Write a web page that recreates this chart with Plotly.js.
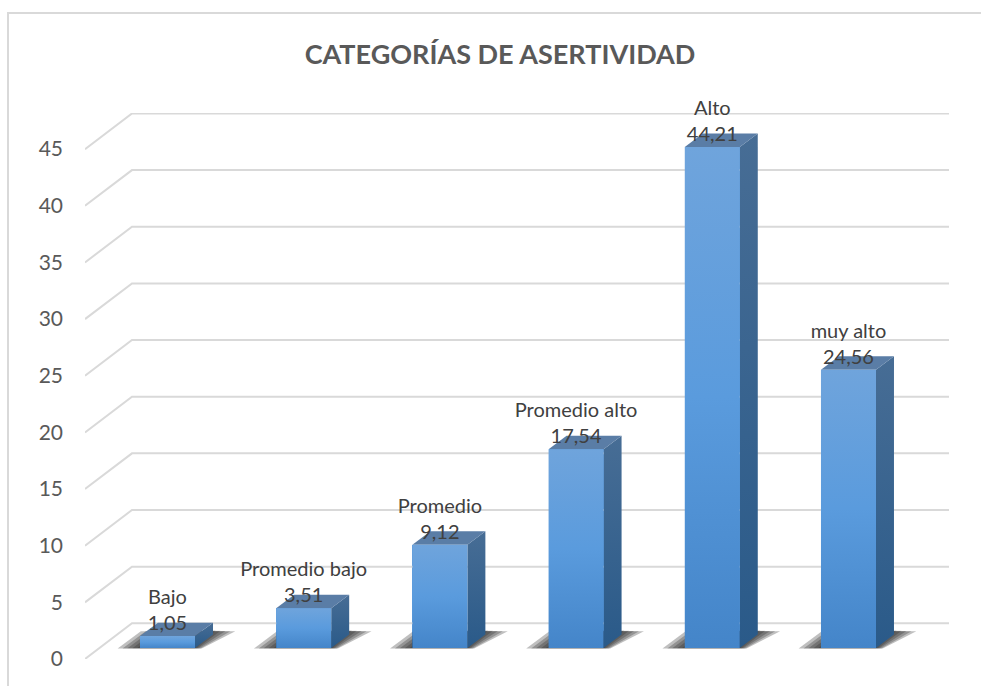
<!DOCTYPE html>
<html>
<head>
<meta charset="utf-8">
<script src="https://cdn.plot.ly/plotly-3.0.1.min.js"></script>
<style>html,body{margin:0;padding:0;background:#fff}#chart{width:981px;height:686px}</style>
</head>
<body>
<div id="chart"></div>
<script>
var categories = ['Bajo', 'Promedio bajo', 'Promedio', 'Promedio alto', 'Alto', 'muy alto'];
var values = [1.05, 3.51, 9.12, 17.54, 44.21, 24.56];
var valueLabels = ['1,05', '3,51', '9,12', '17,54', '44,21', '24,56'];
var yTicks = [0, 5, 10, 15, 20, 25, 30, 35, 40, 45];

var xMin = -0.6057, xMax = 5.738, yMax = 48.19;
var wallDx = 0.345, wallDy = 3.15;
var barDx = 0.132, barDy = 1.19, barW = 0.404, barBase = 0.97;
var grid = '#d9d9d9', textCol = '#595959';
var font = 'Lato, "Open Sans", sans-serif';
var idx = categories.map(function (_, i) { return i; });

function poly(xs, ys, extra) {
  var t = {type: 'scatter', mode: 'lines', x: xs.concat(xs[0]), y: ys.concat(ys[0]),
    fill: 'toself', line: {width: 0}, hoverinfo: 'skip', showlegend: false, cliponaxis: false};
  for (var k in extra) t[k] = extra[k];
  return t;
}

var traces = [];

// Base bars, driven by the data
traces.push({type: 'bar', x: idx, y: values, base: barBase, width: barW,
  marker: {color: '#5a9bdd'}, name: 'Asertividad', showlegend: false,
  text: valueLabels, textposition: 'none', hovertemplate: '%{text}<extra></extra>'});

// Perspective gridlines
var gx = [], gy = [];
yTicks.forEach(function (v) {
  gx.push(xMin, xMin + wallDx, xMax, null);
  gy.push(v, v + wallDy, v + wallDy, null);
});
traces.push({type: 'scatter', mode: 'lines', x: gx, y: gy, line: {color: grid, width: 2},
  hoverinfo: 'skip', showlegend: false, cliponaxis: false, connectgaps: false});

// Soft floor shadows
idx.forEach(function (i) {
  var l = i - barW / 2, r = i + barW / 2;
  var layers = [0.17, 0.13, 0.09, 0.05, 0.02];
  layers.forEach(function (a, n) {
    var s = n * 0.036 + 0.02;
    var rise = 1.55 - n * 0.02;
    traces.push(poly(
      [l - s, l - s + 0.17, r + barDx + s, r + s * 0.3],
      [barBase - n * 0.012, barBase + rise, barBase + rise, barBase - n * 0.012],
      {fillcolor: 'rgba(0,0,0,' + (0.17 + n * 0.02) + ')'}));
  });
});

// 3D faces
idx.forEach(function (i) {
  var l = i - barW / 2, r = i + barW / 2, top = barBase + values[i];
  traces.push(poly([r, r + barDx, r + barDx, r],
    [barBase, barBase + barDy, top + barDy, top],
    {fillgradient: {type: 'vertical', colorscale: [[0, '#2a5a89'], [1, '#476d95']]}}));
  traces.push(poly([l, l + barDx, r + barDx, r],
    [top, top + barDy, top + barDy, top], {fillcolor: '#5a7da6'}));
  traces.push(poly([l, r, r, l], [barBase, barBase, top, top],
    {fillgradient: {type: 'vertical', colorscale: [[0, '#4485c9'], [0.5, '#5a9bdd'], [1, '#6fa4dc']]}}));
});

// Data labels
traces.push({type: 'scatter', mode: 'text', x: idx,
  y: values.map(function (v) { return v + barBase + 0.1; }),
  text: categories.map(function (c, i) { return c + '<br>' + valueLabels[i]; }),
  textposition: 'top center', textfont: {family: font, size: 20, color: '#404040'},
  hoverinfo: 'skip', showlegend: false, cliponaxis: false});

var layout = {
  width: 981, height: 686, showlegend: false, bargap: 0,
  paper_bgcolor: '#fff', plot_bgcolor: 'rgba(0,0,0,0)',
  margin: {l: 85, r: 32, t: 113, b: 27, pad: 0},
  title: {text: '<b>CATEGORÍAS DE ASERTIVIDAD</b>', x: 500 / 981, xanchor: 'center',
    xref: 'container', yref: 'container', y: 1 - 55 / 686, yanchor: 'middle',
    font: {family: font, size: 27, color: textCol}},
  xaxis: {range: [xMin, xMax], visible: false, fixedrange: true},
  yaxis: {range: [0, yMax], tickvals: yTicks, ticktext: yTicks.map(String), ticks: '',
    showgrid: false, zeroline: false, showline: false, ticklabelstandoff: 21,
    tickfont: {family: font, size: 21, color: textCol}, fixedrange: true},
  shapes: [{type: 'line', xref: 'paper', yref: 'paper', x0: -77 / 864, x1: -77 / 864, y0: -27 / 546, y1: 100 / 546,
      line: {color: grid, width: 2}, visible: false},
    {type: 'path', xref: 'paper', yref: 'paper',
     path: 'M ' + (-77 / 864) + ' ' + (-27 / 546) + ' L ' + (-77 / 864) + ' ' + (646 / 546 - 27/546 + 27/546 - 0) + ' L ' + (1 + 32 / 864) + ' ' + (646 / 546),
     line: {color: grid, width: 2}}]
};

Plotly.newPlot('chart', traces, layout, {displayModeBar: false, responsive: false});
</script>
</body>
</html>
